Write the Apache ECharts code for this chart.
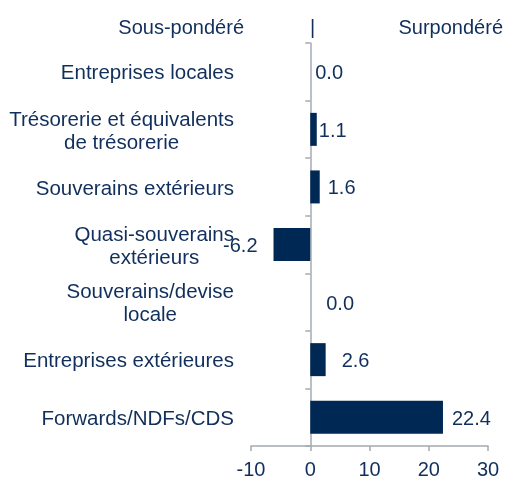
<!DOCTYPE html>
<html>
<head>
<meta charset="utf-8">
<script src="https://cdn.jsdelivr.net/npm/echarts@6/dist/echarts.min.js"></script>
<style>html,body{margin:0;padding:0;background:#fff}#c{width:507px;height:480px}</style>
</head>
<body>
<div id="c"></div>
<script>
const categories = [
  'Entreprises locales',
  'Trésorerie et équivalents\nde trésorerie',
  'Souverains extérieurs',
  'Quasi-souverains\nextérieurs',
  'Souverains/devise\nlocale',
  'Entreprises extérieures',
  'Forwards/NDFs/CDS'
];
const values = [0.0, 1.1, 1.6, -6.2, 0.0, 2.6, 22.4];
const labelDistances = [5, 2, 8, 16, 16, 16, 9];
const xTicks = { min: -10, max: 30, interval: 10 };
const headerLeft = 'Sous-pondéré';
const headerMid = '|';
const headerRight = 'Surpondéré';

const TEXT = '#112f5c';
const BAR = '#002855';
const AXIS = '#a3abb3';
const FONT = '"Liberation Sans", Arial, sans-serif';
const FS = 20;
const CFS = 20.5;

const chart = echarts.init(document.getElementById('c'), null, { renderer: 'canvas' });
chart.setOption({
  animation: false,
  grid: { left: 251, right: 19, top: 43, bottom: 34, containLabel: false, outerBoundsMode: 'none' },
  xAxis: {
    type: 'value', min: xTicks.min, max: xTicks.max, interval: xTicks.interval,
    axisLine: { show: true, lineStyle: { color: AXIS, width: 1.5 } },
    axisTick: { show: true, length: 5, lineStyle: { color: AXIS, width: 1.5 } },
    splitLine: { show: false },
    axisLabel: { color: TEXT, fontSize: FS, fontFamily: FONT, margin: 14 }
  },
  yAxis: {
    type: 'category', inverse: true, data: categories,
    axisLine: { show: true, onZero: true, lineStyle: { color: AXIS, width: 1.5 } },
    axisTick: { show: true, length: 5, lineStyle: { color: AXIS, width: 1.5 } },
    axisLabel: {
      margin: 17, align: 'right', color: TEXT, fontSize: CFS, fontFamily: FONT,
      padding: [4, 0, 0, 0],
      formatter: v => v.split('\n').map(l => '{c|' + l + '}').join('\n'),
      rich: { c: { align: 'center', color: TEXT, fontSize: CFS, fontFamily: FONT, lineHeight: 23 } }
    }
  },
  series: [{
    type: 'bar', barWidth: 33,
    itemStyle: { color: BAR },
    data: values.map((v, i) => ({
      value: v,
      label: {
        show: true, position: v < 0 ? 'left' : 'right', distance: labelDistances[i], offset: [0, 2],
        formatter: p => p.value.toFixed(1), color: TEXT, fontSize: FS, fontFamily: FONT
      }
    }))
  }],
  graphic: [
    { type: 'text', right: 263, top: 18, style: { text: headerLeft, fill: TEXT, font: FS + 'px ' + FONT } },
    { type: 'text', left: 310, top: 18, style: { text: headerMid, fill: TEXT, font: FS + 'px ' + FONT } },
    { type: 'text', right: 4, top: 18, style: { text: headerRight, fill: TEXT, font: FS + 'px ' + FONT } }
  ]
});
</script>
</body>
</html>
